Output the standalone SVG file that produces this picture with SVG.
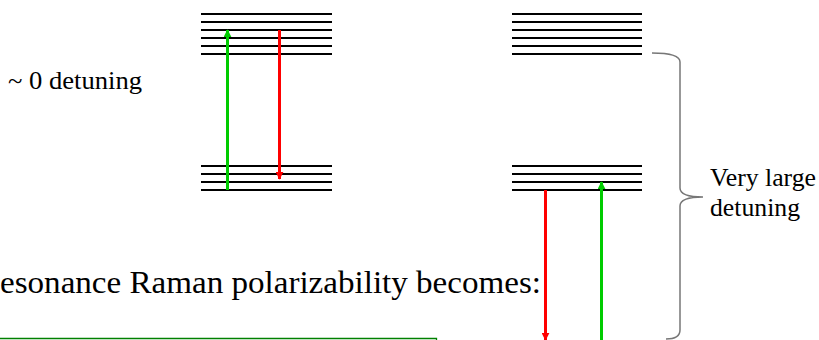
<svg xmlns="http://www.w3.org/2000/svg" width="819" height="340" viewBox="0 0 819 340">
<defs>
<style>
.lvl{stroke:#000;stroke-width:2.2;fill:none}
.txt{font-family:"Liberation Serif","Times New Roman",serif;fill:#000}
.g{stroke:#00cc00;stroke-width:3;fill:none}
.r{stroke:#ff0000;stroke-width:3;fill:none}
.brace{stroke:#777;stroke-width:1.5;fill:none}
</style>
<marker id="ag" viewBox="0 0 10 10" refX="9" refY="5" markerWidth="8" markerHeight="8" markerUnits="userSpaceOnUse" orient="auto"><path d="M0,0 L10,5 L0,10 z" fill="#00cc00"/></marker>
<marker id="ar" viewBox="0 0 10 10" refX="9" refY="5" markerWidth="8" markerHeight="8" markerUnits="userSpaceOnUse" orient="auto"><path d="M0,0 L10,5 L0,10 z" fill="#ff0000"/></marker>
</defs>
<rect width="819" height="340" fill="#fff"/>
<g id="levels-left-upper">
<path class="lvl" d="M201,14H332M201,22H332M201,30H332M201,38H332M201,46H332M201,54H332"/>
</g>
<g id="levels-left-lower">
<path class="lvl" d="M201,166H332M201,174H332M201,182H332M201,190H332"/>
</g>
<g id="levels-right-upper">
<path class="lvl" d="M512,14H642M512,22H642M512,30H642M512,38H642M512,46H642M512,54H642"/>
</g>
<g id="levels-right-lower">
<path class="lvl" d="M512,166H642M512,174H642M512,182H642M512,190H642"/>
</g>
<g id="connectors">
<line class="g" x1="227.5" y1="190" x2="227.5" y2="30" marker-end="url(#ag)"/>
<line class="r" x1="279.5" y1="30" x2="279.5" y2="179" marker-end="url(#ar)"/>
<line class="r" x1="545.5" y1="190" x2="545.5" y2="340" marker-end="url(#ar)"/>
<line class="g" x1="601.5" y1="340" x2="601.5" y2="182" marker-end="url(#ag)"/>
</g>
<g id="brace">
<path class="brace" d="M652,53 Q680,53 680,62 L680,188 Q680,197 703,197 Q680,197 680,206 L680,330 Q680,339 666,339"/>
</g>
<g id="label-zero">
<text class="txt" x="8" y="89" font-size="25" textLength="134" lengthAdjust="spacingAndGlyphs">~ 0 detuning</text>
</g>
<g id="label-large">
<text class="txt" x="710" y="186" font-size="25" textLength="106" lengthAdjust="spacingAndGlyphs">Very large</text>
<text class="txt" x="710" y="216" font-size="25" textLength="90" lengthAdjust="spacingAndGlyphs">detuning</text>
</g>
<g id="caption">
<text class="txt" x="0" y="293" font-size="32" textLength="541" lengthAdjust="spacingAndGlyphs">esonance Raman polarizability becomes:</text>
</g>
<g id="box">
<path d="M-1,338.5 H436.5 V341" stroke="#008000" stroke-width="1.3" fill="none"/>
</g>
</svg>
